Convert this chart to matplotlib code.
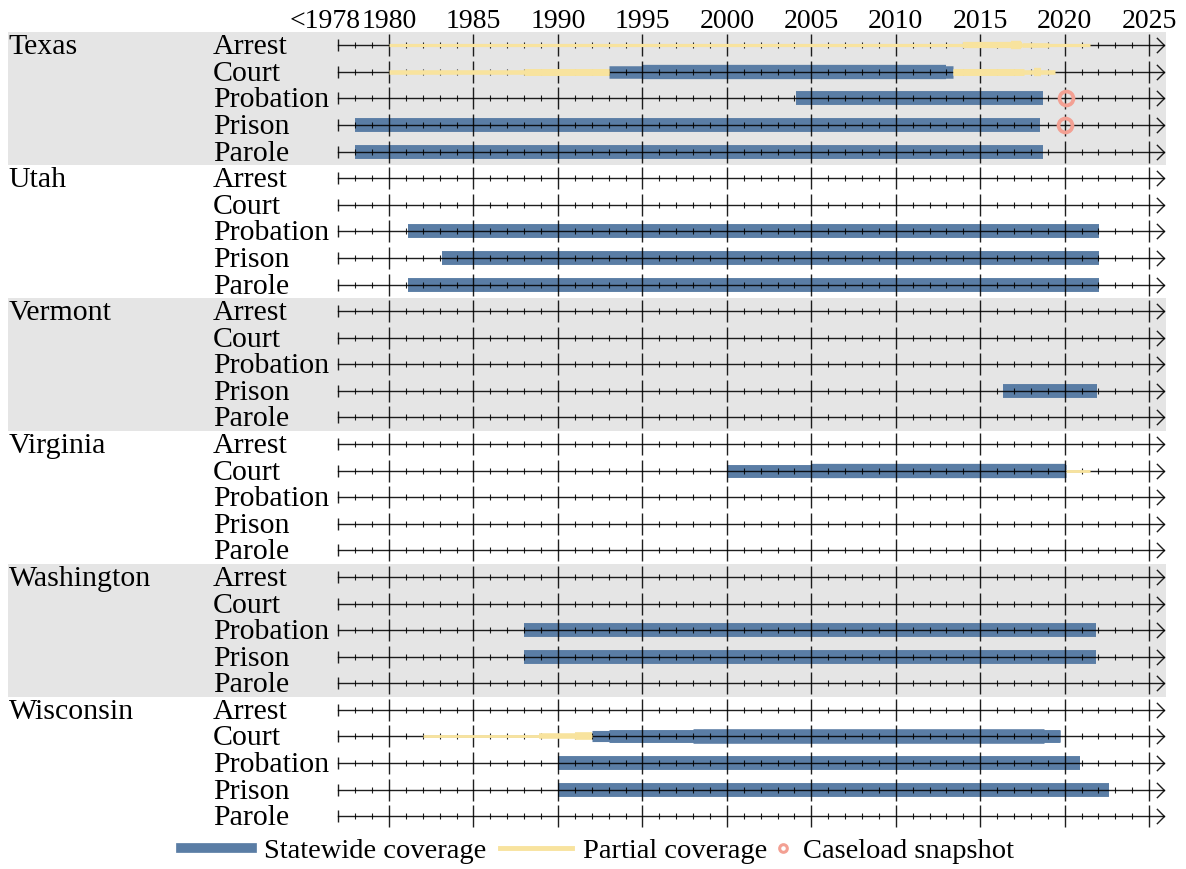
import matplotlib
matplotlib.use("Agg")
import matplotlib.pyplot as plt
from matplotlib.lines import Line2D
from matplotlib.path import Path

plt.rcParams["font.family"] = ["Liberation Serif", "DejaVu Serif"]

STATES = ["Texas", "Utah", "Vermont", "Virginia", "Washington", "Wisconsin"]
STAGES = ["Arrest", "Court", "Probation", "Prison", "Parole"]
SHADED = ["Texas", "Vermont", "Washington"]

AXIS_START = 1977
AXIS_END = 2025.9
MAJOR_YEARS = list(range(1980, 2026, 5))
TICK_LABELS = ["<1978"] + [str(y) for y in MAJOR_YEARS]

# (state, stage, start, end, weight) -- overlapping spans drawn one over another
STATEWIDE = [
    ("Texas", "Court", 1993.0, 2013.4, 9.0),
    ("Texas", "Court", 1995.0, 2013.0, 10.3),
    ("Texas", "Probation", 2004.1, 2018.7, 10.0),
    ("Texas", "Prison", 1978.0, 2018.55, 10.0),
    ("Texas", "Parole", 1978.0, 2018.7, 10.0),
    ("Utah", "Probation", 1981.15, 2022.05, 10.0),
    ("Utah", "Prison", 1983.15, 2022.05, 10.0),
    ("Utah", "Parole", 1981.15, 2022.05, 10.0),
    ("Vermont", "Prison", 2016.35, 2021.9, 10.0),
    ("Virginia", "Court", 2000.0, 2020.1, 9.3),
    ("Virginia", "Court", 2005.0, 2020.1, 10.3),
    ("Washington", "Probation", 1988.0, 2021.85, 10.0),
    ("Washington", "Prison", 1988.0, 2021.85, 10.0),
    ("Wisconsin", "Court", 1992.0, 2019.7, 8.0),
    ("Wisconsin", "Court", 1993.0, 2019.7, 9.3),
    ("Wisconsin", "Court", 1998.0, 2018.8, 10.5),
    ("Wisconsin", "Probation", 1990.0, 2020.9, 10.0),
    ("Wisconsin", "Prison", 1990.0, 2022.65, 10.0),
]

PARTIAL = [
    ("Texas", "Arrest", 1980.0, 2021.5, 2.3),
    ("Texas", "Arrest", 2014.0, 2017.5, 4.5),
    ("Texas", "Arrest", 2016.8, 2017.4, 6.0),
    ("Texas", "Arrest", 2017.5, 2019.1, 3.3),
    ("Texas", "Court", 1980.0, 1993.0, 3.3),
    ("Texas", "Court", 1988.0, 1993.0, 5.0),
    ("Texas", "Court", 2013.4, 2019.4, 3.3),
    ("Texas", "Court", 2013.4, 2017.6, 5.0),
    ("Texas", "Court", 2018.2, 2018.6, 6.0),
    ("Virginia", "Court", 2020.1, 2021.5, 2.0),
    ("Wisconsin", "Court", 1982.0, 1992.0, 2.0),
    ("Wisconsin", "Court", 1988.9, 1992.0, 4.0),
    ("Wisconsin", "Court", 1991.0, 1992.0, 5.5),
]

SNAPSHOTS = [
    ("Texas", "Probation", 2020.1),
    ("Texas", "Prison", 2020.0),
]

BLUE = "#5a7da5"
YELLOW = "#f8e39e"
PINK = "#f3a093"
LABEL_SIZE = 21.5

CHEVRON = Path([(-1.0, 1.0), (0.0, 0.0), (-1.0, -1.0)],
               [Path.MOVETO, Path.LINETO, Path.LINETO])


def row_of(state, stage):
    return STATES.index(state) * len(STAGES) + STAGES.index(stage)


fig = plt.figure(figsize=(11.86, 8.69), dpi=100)
ax = fig.add_axes([8 / 1186, 1 - 829.5 / 869, 1158 / 1186, 797.5 / 869])
n_rows = len(STATES) * len(STAGES)
ax.set_ylim(n_rows - 0.5, -0.5)
ax.set_xlim(1957.44, 2026.0)
for side in ax.spines.values():
    side.set_visible(False)
ax.set_yticks([])

# shaded state groups
for state in SHADED:
    first = STATES.index(state) * len(STAGES)
    ax.axhspan(first - 0.5, first + len(STAGES) - 0.5, color="#e5e5e5", lw=0, zorder=0)

# labels
lab_tf = ax.get_yaxis_transform()
for s, state in enumerate(STATES):
    for g, stage in enumerate(STAGES):
        r = s * len(STAGES) + g
        if g == 0:
            ax.text(0.0005, r + 0.34, state, transform=lab_tf, fontsize=LABEL_SIZE,
                    va="baseline", ha="left")
        ax.text(0.177, r + 0.34, stage, transform=lab_tf, fontsize=LABEL_SIZE,
                va="baseline", ha="left")

# coverage bars sit under the row axes
for state, stage, x0, x1, w in STATEWIDE:
    r = row_of(state, stage)
    ax.plot([x0, x1], [r, r], color=BLUE, lw=w, solid_capstyle="butt", zorder=1)

# per-row timeline axis
minor_years = [y for y in range(AXIS_START + 1, 2026) if y not in MAJOR_YEARS]
ink = dict(color="black", alpha=0.88, zorder=2)
for r in range(n_rows):
    ax.plot([AXIS_START, AXIS_END], [r, r], lw=1.0, **ink)
    ax.plot([AXIS_END], [r], ls="none", marker=CHEVRON, ms=11, mfc="none",
            mew=1.0, **ink)
    ax.plot([AXIS_START], [r], ls="none", marker="|", ms=8, mew=1.0, **ink)
    ax.plot(minor_years, [r] * len(minor_years), ls="none", marker="|",
            ms=3.8, mew=0.8, **ink)
    ax.plot(MAJOR_YEARS, [r] * len(MAJOR_YEARS), ls="none", marker="|",
            ms=16.3, mew=1.0, **ink)

for state, stage, x0, x1, w in PARTIAL:
    r = row_of(state, stage)
    ax.plot([x0, x1], [r, r], color=YELLOW, lw=w, solid_capstyle="butt", zorder=3)

for state, stage, x in SNAPSHOTS:
    r = row_of(state, stage)
    ax.plot([x], [r], ls="none", marker="o", ms=10, mfc="none",
            mec=PINK, mew=2.7, zorder=4)

# year labels along the top
ax.xaxis.tick_top()
ax.set_xticks([1976.2] + MAJOR_YEARS)
ax.set_xticklabels(TICK_LABELS, fontsize=20)
ax.tick_params(axis="x", length=0, pad=-1.5)

line_handles = [
    Line2D([], [], color=BLUE, lw=7),
    Line2D([], [], color=YELLOW, lw=3.5),
]
fig.legend(line_handles, ["Statewide coverage", "Partial coverage"],
           loc="center right", bbox_to_anchor=(770 / 1186, 0.021), ncol=2,
           frameon=False, fontsize=20.5, handlelength=2.5, handletextpad=0.4,
           columnspacing=0.5, borderpad=0.1, borderaxespad=0)
fig.legend([Line2D([], [], ls="none", marker="o", ms=5.5, mfc="none", mec=PINK, mew=2.2)],
           ["Caseload snapshot"],
           loc="center left", bbox_to_anchor=(772 / 1186, 0.021),
           frameon=False, fontsize=20.5, handlelength=0.6, handletextpad=0.4,
           borderpad=0.1, borderaxespad=0)

fig.savefig("out.png", dpi=100)
